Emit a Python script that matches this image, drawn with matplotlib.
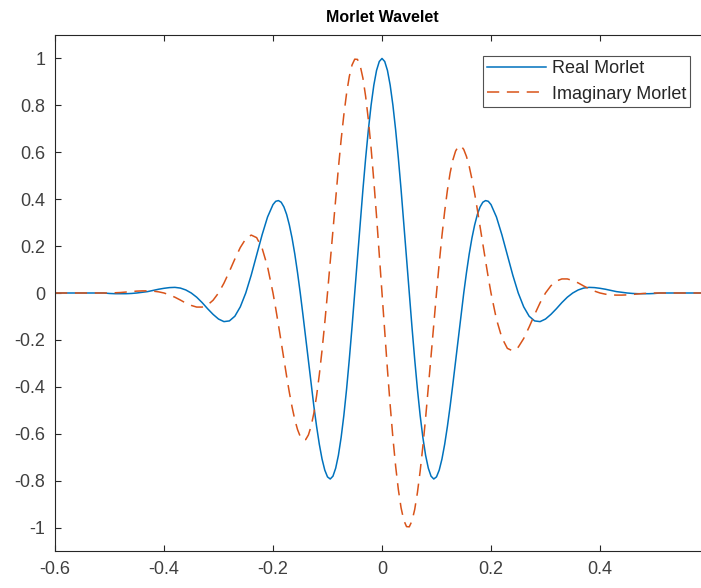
"""Morlet wavelet: real and imaginary parts, MATLAB-style figure."""

import numpy as np
import matplotlib

matplotlib.use("Agg")
import matplotlib.pyplot as plt

plt.rcParams["font.family"] = ["Liberation Sans", "DejaVu Sans"]

# sample times: 0.01 steps on the tails, 0.005 steps across the main lobes
t_left = np.round(np.linspace(-0.6, -0.21, 40), 3)
t_mid = np.round(np.linspace(-0.2, 0.2, 81), 3)
t_right = np.round(np.linspace(0.21, 0.6, 40), 3)
t = np.concatenate([t_left, t_mid, t_right])

real_left = [
    0.0, 0.0, 0.0, 0.0, 0.0, 0.0, 0.0, 0.0, 0.0, 0.0,
    -0.002, -0.003, -0.003, -0.003, -0.002, 0.000, 0.003, 0.006, 0.011, 0.016,
    0.020, 0.023, 0.024, 0.021, 0.013, 0.000, -0.018, -0.041, -0.067, -0.091,
    -0.111, -0.122, -0.119, -0.099, -0.059, 0.000, 0.076, 0.162, 0.248, 0.324,
]
real_mid = [
    0.377, 0.391, 0.394, 0.387, 0.367, 0.335, 0.290, 0.234, 0.166, 0.087,
    0.000, -0.094, -0.192, -0.291, -0.389, -0.483, -0.569, -0.645, -0.708, -0.755,
    -0.784, -0.793, -0.781, -0.747, -0.692, -0.616, -0.522, -0.410, -0.283, -0.145,
    0.000, 0.149, 0.297, 0.441, 0.575, 0.696, 0.801, 0.886, 0.949, 0.987,
    1.000,
    0.987, 0.949, 0.886, 0.801, 0.696, 0.575, 0.441, 0.297, 0.149, 0.000,
    -0.145, -0.283, -0.410, -0.522, -0.616, -0.692, -0.747, -0.781, -0.793, -0.784,
    -0.755, -0.708, -0.645, -0.569, -0.483, -0.389, -0.291, -0.192, -0.094, 0.000,
    0.087, 0.166, 0.234, 0.290, 0.335, 0.367, 0.387, 0.394, 0.391, 0.377,
]
real_right = [
    0.324, 0.248, 0.162, 0.076, 0.000, -0.059, -0.099, -0.119, -0.122, -0.111,
    -0.091, -0.067, -0.041, -0.018, 0.000, 0.013, 0.021, 0.024, 0.023, 0.020,
    0.016, 0.011, 0.006, 0.003, 0.000, -0.002, -0.003, -0.003, -0.003, -0.002,
    0.0, 0.0, 0.0, 0.0, 0.0, 0.0, 0.0, 0.0, 0.0, 0.0,
]

imag_left = [
    0.0, 0.0, 0.0, 0.0, 0.0, 0.0, 0.0, 0.0, 0.0, 0.0,
    0.000, 0.001, 0.002, 0.004, 0.006, 0.008, 0.009, 0.009, 0.008, 0.005,
    0.000, -0.008, -0.018, -0.030, -0.043, -0.053, -0.060, -0.060, -0.051, -0.031,
    0.000, 0.042, 0.092, 0.145, 0.194, 0.231, 0.247, 0.236, 0.191, 0.112,
]
imag_mid = [
    0.000, -0.066, -0.136, -0.209, -0.283, -0.355, -0.424, -0.486, -0.540, -0.582,
    -0.612, -0.627, -0.625, -0.605, -0.567, -0.512, -0.438, -0.348, -0.244, -0.127,
    0.000, 0.133, 0.269, 0.403, 0.533, 0.653, 0.760, 0.851, 0.923, 0.972,
    0.997, 0.996, 0.969, 0.916, 0.838, 0.738, 0.617, 0.478, 0.327, 0.166,
    0.000,
    -0.166, -0.327, -0.478, -0.617, -0.738, -0.838, -0.916, -0.969, -0.996, -0.997,
    -0.972, -0.923, -0.851, -0.760, -0.653, -0.533, -0.403, -0.269, -0.133, 0.000,
    0.127, 0.244, 0.348, 0.438, 0.512, 0.567, 0.605, 0.625, 0.627, 0.612,
    0.582, 0.540, 0.486, 0.424, 0.355, 0.283, 0.209, 0.136, 0.066, 0.000,
]
imag_right = [
    -0.112, -0.191, -0.236, -0.247, -0.231, -0.194, -0.145, -0.092, -0.042, 0.000,
    0.031, 0.051, 0.060, 0.060, 0.053, 0.043, 0.030, 0.018, 0.008, 0.000,
    -0.005, -0.008, -0.009, -0.009, -0.008, -0.006, -0.004, -0.002, -0.001, 0.000,
    0.0, 0.0, 0.0, 0.0, 0.0, 0.0, 0.0, 0.0, 0.0, 0.0,
]

real_morlet = real_left + real_mid + real_right
imag_morlet = imag_left + imag_mid + imag_right

xticks = [-0.6, -0.4, -0.2, 0, 0.2, 0.4]
xticklabels = ["-0.6", "-0.4", "-0.2", "0", "0.2", "0.4"]
yticks = [-1, -0.8, -0.6, -0.4, -0.2, 0, 0.2, 0.4, 0.6, 0.8, 1]
yticklabels = ["-1", "-0.8", "-0.6", "-0.4", "-0.2", "0", "0.2", "0.4", "0.6", "0.8", "1"]

W, H = 701, 588
fig = plt.figure(figsize=(W / 100, H / 100), dpi=100)
fig.patch.set_facecolor("white")

# axes runs past the right edge of the picture (the reference is cropped)
left, right, top, bottom = 55, 709, 35, 551
ax = fig.add_axes([left / W, 1 - bottom / H, (right - left) / W, (bottom - top) / H])

ax.plot(t, real_morlet, color="#0072BD", linewidth=1.1, label="Real Morlet")
ax.plot(t, imag_morlet, color="#D95319", linewidth=1.1, linestyle=(0, (8, 5)),
        label="Imaginary Morlet")

ax.set_xlim(-0.6, 0.6)
ax.set_ylim(-1.1, 1.1)
ax.set_xticks(xticks)
ax.set_xticklabels(xticklabels)
ax.set_yticks(yticks)
ax.set_yticklabels(yticklabels)

spine_col = "#262626"
for s in ax.spines.values():
    s.set_color(spine_col)
    s.set_linewidth(0.8)
ax.tick_params(direction="in", length=4, width=0.8, color=spine_col,
               labelsize=13, labelcolor="#404040", top=True, right=True, pad=7)

ax.set_title("Morlet Wavelet", fontsize=11.5, fontweight="bold", color="black", pad=9)

leg = ax.legend(loc="upper right", bbox_to_anchor=(690 / W, 1 - 56 / H),
                bbox_transform=fig.transFigure, fontsize=13, frameon=True,
                fancybox=False, handlelength=3.3, borderpad=0.22,
                labelspacing=0.48, handletextpad=0.3, borderaxespad=0,
                labelcolor="#262626")
leg.get_frame().set_edgecolor(spine_col)
leg.get_frame().set_linewidth(0.8)

fig.savefig("out.png", dpi=100)
